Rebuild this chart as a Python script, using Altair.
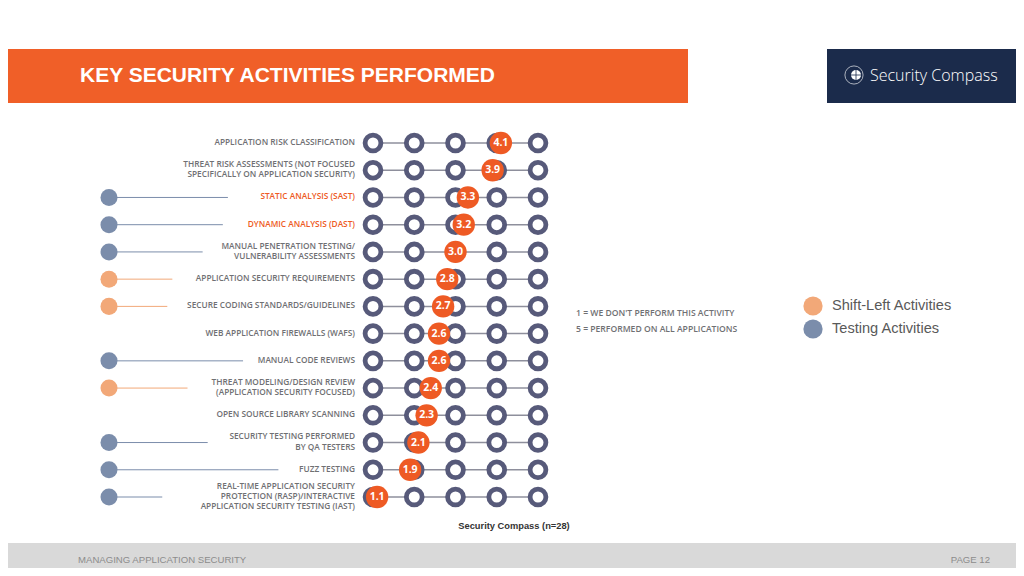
import altair as alt
import pandas as pd

# ---------------- data ----------------
activities = [
    "APPLICATION RISK CLASSIFICATION",
    "THREAT RISK ASSESSMENTS (NOT FOCUSED\nSPECIFICALLY ON APPLICATION SECURITY)",
    "STATIC ANALYSIS (SAST)",
    "DYNAMIC ANALYSIS (DAST)",
    "MANUAL PENETRATION TESTING/\nVULNERABILITY ASSESSMENTS",
    "APPLICATION SECURITY REQUIREMENTS",
    "SECURE CODING STANDARDS/GUIDELINES",
    "WEB APPLICATION FIREWALLS (WAFS)",
    "MANUAL CODE REVIEWS",
    "THREAT MODELING/DESIGN REVIEW\n(APPLICATION SECURITY FOCUSED)",
    "OPEN SOURCE LIBRARY SCANNING",
    "SECURITY TESTING PERFORMED\nBY QA TESTERS",
    "FUZZ TESTING",
    "REAL-TIME APPLICATION SECURITY\nPROTECTION (RASP)/INTERACTIVE\nAPPLICATION SECURITY TESTING (IAST)",
]
scores = [4.1, 3.9, 3.3, 3.2, 3.0, 2.8, 2.7, 2.6, 2.6, 2.4, 2.3, 2.1, 1.9, 1.1]
activity_type = ["", "", "Testing", "Testing", "Testing", "Shift-Left", "Shift-Left",
                 "", "Testing", "Shift-Left", "", "Testing", "Testing", "Testing"]
label_highlight = [False, False, True, True, False, False, False,
                   False, False, False, False, False, False, False]
scale_levels = [1, 2, 3, 4, 5]

legend_labels = ["Shift-Left Activities", "Testing Activities"]
scale_notes = ["1 = WE DON'T PERFORM THIS ACTIVITY", "5 = PERFORMED ON ALL APPLICATIONS"]
title_text = "KEY SECURITY ACTIVITIES PERFORMED"
brand_text = "Security Compass"
source_text = "Security Compass (n=28)"
footer_left = "MANAGING APPLICATION SECURITY"
footer_right = "PAGE 12"

# ---------------- styles ----------------
ORANGE = "#ee5a24"
BAR_ORANGE = "#f05f28"
NAVY = "#1b2b4b"
RING = "#575a7a"
CONNECT = "#8e8f9c"
LABEL = "#6f7073"
TEST_C = "#7b8dab"
SHIFT_C = "#f2a878"
type_colors = {"Testing": TEST_C, "Shift-Left": SHIFT_C}

n = len(activities)
Y_TOP, Y_BOT = 135, 489
ROW_PX = (Y_BOT - Y_TOP) / (n - 1)
LINE_PX = 10.2
yscale = alt.Scale(type="point", domain=list(range(n)), range=[Y_TOP, Y_BOT], padding=0)
yscale_q = alt.Scale(domain=[0, n - 1], range=[Y_TOP, Y_BOT], zero=False, nice=False)
xscale = alt.Scale(domain=[1, 5], range=[365, 530], zero=False, nice=False)

rows = pd.DataFrame({
    "row": list(range(n)),
    "activity": activities,
    "score": scores,
    "kind": activity_type,
    "hl": label_highlight,
})
rows["lo"] = min(scale_levels)
rows["hi"] = max(scale_levels)
rows["maxlen"] = [max(len(s) for s in a.split("\n")) for a in activities]
rows["line_end"] = 347 - rows["maxlen"] * 5.05 - 16

# one record per label line, vertically centred on its row
line_recs = []
for r, (a, h) in enumerate(zip(activities, label_highlight)):
    parts = a.split("\n")
    k = len(parts)
    for i, p in enumerate(parts):
        line_recs.append({
            "ypos": r + (i - (k - 1) / 2) * LINE_PX / ROW_PX,
            "text": p,
            "c": ORANGE if h else LABEL,
        })
label_lines = pd.DataFrame(line_recs)

grid = pd.DataFrame([{"row": r, "level": l} for r in range(n) for l in scale_levels])
marked = rows[rows["kind"] != ""].copy()
marked["mcolor"] = marked["kind"].map(type_colors)

one = pd.DataFrame({"a": [0]})
Y = alt.Y("row:O", scale=yscale, axis=None)

# ---------------- decorations ----------------
header_bar = alt.Chart(one).mark_rect(color=BAR_ORANGE).encode(
    x=alt.value(0), x2=alt.value(680), y=alt.value(41), y2=alt.value(95))
logo_box = alt.Chart(one).mark_rect(color=NAVY).encode(
    x=alt.value(819), x2=alt.value(1008), y=alt.value(41), y2=alt.value(95))
title = alt.Chart(one).mark_text(
    text=title_text, align="left", baseline="middle", font="Liberation Sans",
    fontWeight="bold", fontSize=21, color="white").encode(x=alt.value(72), y=alt.value(68))
brand = alt.Chart(one).mark_text(
    text=brand_text, align="left", baseline="middle", font="Open Sans",
    fontWeight=300, fontSize=16, color="white").encode(x=alt.value(862), y=alt.value(68))
globe = alt.Chart(one).mark_circle(color="white", opacity=1, size=100).encode(
    x=alt.value(848), y=alt.value(67))
globe_ring = alt.Chart(one).mark_point(shape="circle", filled=False, color="white",
                                        strokeWidth=0.8, size=330, opacity=0.8).encode(
    x=alt.value(846), y=alt.value(67))
globe_h = alt.Chart(one).mark_rule(color=NAVY, strokeWidth=0.8).encode(
    x=alt.value(842), x2=alt.value(854), y=alt.value(67))
globe_v = alt.Chart(one).mark_rule(color=NAVY, strokeWidth=0.8).encode(
    x=alt.value(848), y=alt.value(61), y2=alt.value(73))
footer_band = alt.Chart(one).mark_rect(color="#d9d9d9").encode(
    x=alt.value(0), x2=alt.value(1008), y=alt.value(535), y2=alt.value(560))
foot_l = alt.Chart(one).mark_text(
    text=footer_left, align="left", baseline="middle", font="Liberation Sans",
    fontSize=9.6, color="#8c8c8c").encode(x=alt.value(70), y=alt.value(552))
foot_r = alt.Chart(one).mark_text(
    text=footer_right, align="right", baseline="middle", font="Liberation Sans",
    fontSize=9.6, color="#8c8c8c").encode(x=alt.value(982), y=alt.value(552))
source = alt.Chart(one).mark_text(
    text=source_text, align="center", baseline="middle", font="Liberation Sans",
    fontWeight="bold", fontSize=9.3, color="#333333").encode(x=alt.value(506), y=alt.value(518))

# ---------------- notes & legend ----------------
notes_df = pd.DataFrame({"note": scale_notes, "i": [0, 1]})
notes = alt.Chart(notes_df).mark_text(
    align="left", baseline="middle", font="Open Sans", fontWeight=600,
    fontSize=8.6, color=LABEL).encode(
    x=alt.value(568),
    y=alt.Y("i:O", scale=alt.Scale(type="point", domain=[0, 1], range=[305, 321], padding=0), axis=None),
    text="note:N")

leg_df = pd.DataFrame({"label": legend_labels, "i": [0, 1], "c": [SHIFT_C, TEST_C]})
leg_y = alt.Y("i:O", scale=alt.Scale(type="point", domain=[0, 1], range=[298, 321], padding=0), axis=None)
leg_dots = alt.Chart(leg_df).mark_circle(size=370, opacity=1).encode(
    x=alt.value(805), y=leg_y, color=alt.Color("c:N", scale=None))
leg_text = alt.Chart(leg_df).mark_text(
    align="left", baseline="middle", font="Liberation Sans", fontSize=14.6,
    color="#595959").encode(x=alt.value(824), y=leg_y, text="label:N")

# ---------------- main rows ----------------
labels = alt.Chart(label_lines).mark_text(
    align="right", baseline="middle", font="Open Sans", fontWeight=600,
    fontSize=8.3).encode(
    x=alt.value(347),
    y=alt.Y("ypos:Q", scale=yscale_q, axis=None),
    text="text:N",
    color=alt.Color("c:N", scale=None))

mark_lines = alt.Chart(marked).mark_rule(strokeWidth=1).encode(
    x=alt.X("line_end:Q", scale=None), x2=alt.value(101), y=Y,
    color=alt.Color("mcolor:N", scale=None))
mark_dots = alt.Chart(marked).mark_circle(size=290, opacity=1).encode(
    x=alt.value(101), y=Y, color=alt.Color("mcolor:N", scale=None))

connectors = alt.Chart(rows).mark_rule(color=CONNECT, strokeWidth=1.5).encode(
    x=alt.X("lo:Q", scale=xscale, axis=None), x2="hi:Q", y=Y)
rings = alt.Chart(grid).mark_circle(
    fill="white", stroke=RING, strokeWidth=4.8, size=250, opacity=1,
    fillOpacity=1, strokeOpacity=1).encode(
    x=alt.X("level:Q", scale=xscale, axis=None), y=Y)
dots = alt.Chart(rows).mark_circle(color=ORANGE, size=500, opacity=1).encode(
    x=alt.X("score:Q", scale=xscale, axis=None), y=Y)
dot_text = alt.Chart(rows).mark_text(
    font="Open Sans", fontWeight="bold", fontSize=10.5, color="white",
    baseline="middle", align="center").encode(
    x=alt.X("score:Q", scale=xscale, axis=None), y=Y,
    text=alt.Text("score:Q", format=".1f"))

chart = alt.layer(
    header_bar, logo_box, title, globe_ring, globe, globe_h, globe_v, brand,
    footer_band, foot_l, foot_r, source,
    notes, leg_dots, leg_text,
    mark_lines, mark_dots, labels,
    connectors, rings, dots, dot_text,
).resolve_scale(x="independent", y="independent", color="independent").properties(
    width=1008, height=560, padding=0, background="white",
    autosize=alt.AutoSizeParams(type="none"),
).configure_view(stroke=None)

chart.save("out.html", embed_options={"renderer": "svg", "actions": False})
